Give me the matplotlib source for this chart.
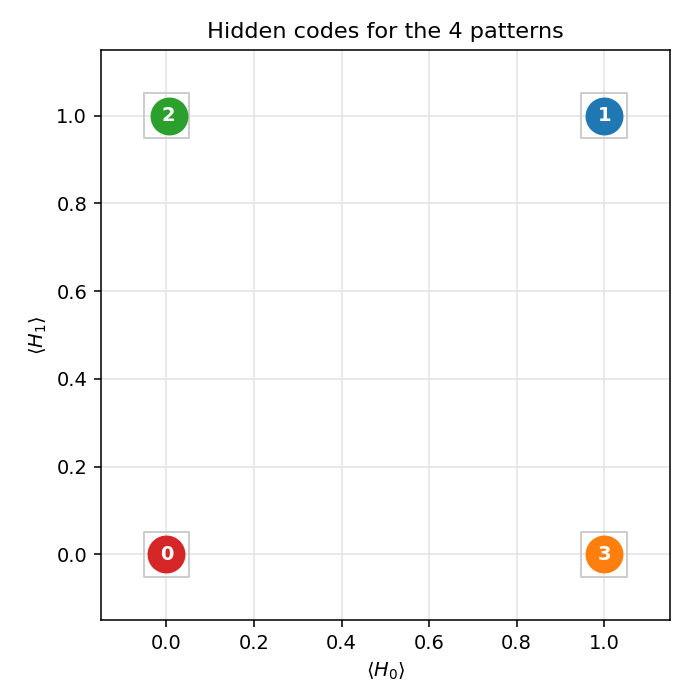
import matplotlib
matplotlib.use("Agg")
import matplotlib.pyplot as plt

patterns = [0, 1, 2, 3]
h0 = [0.0, 1.0, 0.005, 1.0]
h1 = [0.0, 1.0, 1.0, 0.0]
target_h0 = [0, 1, 0, 1]
target_h1 = [0, 1, 1, 0]
colors = ["#d62728", "#1f77b4", "#2ca02c", "#ff7f0e"]

fig = plt.figure(figsize=(5, 5), dpi=140)
ax = fig.add_axes([0.144, 0.114, 0.813, 0.815])
ax.scatter(target_h0, target_h1, marker="s", s=23.5**2, facecolors="none",
           edgecolors="#cccccc", linewidths=1.0, zorder=2)
for p, x, y, c in zip(patterns, h0, h1, colors):
    ax.scatter([x], [y], s=18.5**2, color=c, zorder=3)
    ax.text(x, y, str(p), ha="center", va="center", color="white",
            fontsize=10, fontweight="bold", zorder=4)
ax.set_xlim(-0.15, 1.15)
ax.set_ylim(-0.15, 1.15)
ax.grid(True, color="#e3e3e3", linewidth=0.8)
ax.set_axisbelow(True)
ax.set_xlabel(r"$\langle H_0\rangle$")
ax.set_ylabel(r"$\langle H_1\rangle$")
ax.set_title("Hidden codes for the 4 patterns", fontsize=11.5)
fig.savefig("out.png")
